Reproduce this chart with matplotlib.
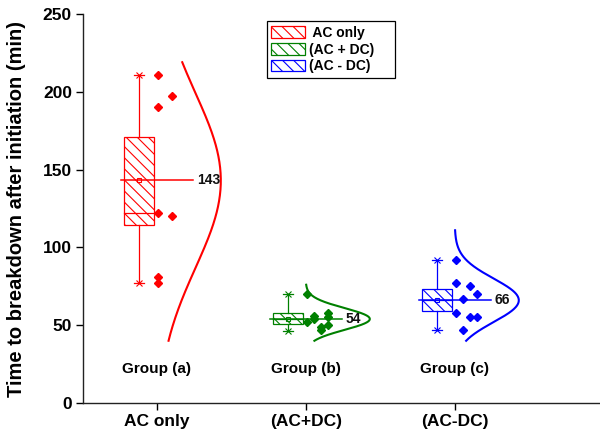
import numpy as np
import matplotlib
matplotlib.use('Agg')
import matplotlib.pyplot as plt
from matplotlib.patches import Rectangle, Patch

plt.rcParams['font.family'] = ['Liberation Sans', 'DejaVu Sans']
plt.rcParams['font.weight'] = 'bold'
plt.rcParams['hatch.linewidth'] = 0.8

# ---------------- data ----------------
categories = ['AC only', '(AC+DC)', '(AC-DC)']
group_labels = ['Group (a)', 'Group (b)', 'Group (c)']
legend_labels = [' AC only     ', '(AC + DC)    ', '(AC - DC)    ']

points_a = [211, 197, 190, 122, 120, 81, 77]
points_b = [70, 52, 56, 54, 47, 49, 58, 55.5, 50]
points_c = [92, 77, 75, 70, 67, 58, 55, 55, 47]

box_low = [114.4, 50.7, 59.1]
box_high = [170.8, 57.6, 73.3]
medians = [122, 54, 66.5]
means = [143, 54, 66]
whisker_low = [77, 46, 47]
whisker_high = [211, 70, 92]
curve_sd = [56, 7, 14]
curve_low = [40, 40, 40]
curve_high = [219, 76, 111]

# ---------------- layout ----------------
cols_a = [0, 2, 0, 0, 2, 0, 0]
cols_b = [0, 0, 1, 1, 2, 2, 3, 3, 3]
cols_c = [0, 0, 2, 3, 1, 0, 2, 3, 1]
colors = ['#ff0000', '#008000', '#0000ff']
HATCH = '\\\\\\'

fig = plt.figure(figsize=(6, 4.37), dpi=100)
ax = fig.add_axes([83 / 600, 1 - 403 / 437, 517 / 600, 389 / 437])

all_points = [points_a, points_b, points_c]
all_cols = [cols_a, cols_b, cols_c]

for i in range(3):
    x0 = i + 1
    c = colors[i]
    bx = x0 - 0.12
    bw = 0.2
    ax.add_patch(Rectangle((bx - bw / 2, box_low[i]), bw, box_high[i] - box_low[i],
                           facecolor='white', edgecolor=c, hatch=HATCH, lw=0.9, zorder=2))
    ax.plot([bx - bw / 2, bx + bw / 2], [medians[i], medians[i]], color=c, lw=0.9, zorder=3)
    # whiskers
    ax.plot([bx, bx], [box_high[i], whisker_high[i]], color=c, lw=0.9, zorder=2)
    ax.plot([bx, bx], [box_low[i], whisker_low[i]], color=c, lw=0.9, zorder=2)
    for w in (whisker_low[i], whisker_high[i]):
        ax.plot([bx - 0.035, bx + 0.035], [w, w], color=c, lw=0.9, zorder=3)
        ax.plot([bx], [w], marker='x', ms=4.5, mew=0.8, color=c, zorder=3)
    # mean line, marker and label
    ax.plot([x0 - 0.24, x0 + 0.245], [means[i], means[i]], color=c, lw=1.1, zorder=4)
    ax.plot([bx], [means[i]], marker='s', ms=3.5, mfc='none', mec=c, mew=0.8, zorder=4)
    ax.text(x0 + 0.27, means[i], f'{means[i]:g}', ha='left', va='center',
            fontsize=10, fontweight='bold', color='#111111', zorder=5)
    # points
    xs = x0 + 0.006 + 0.047 * np.array(all_cols[i])
    ax.plot(xs, all_points[i], linestyle='none', marker='D', ms=4.2, color=c, mec=c, zorder=5)
    # distribution curve
    y = np.linspace(curve_low[i], curve_high[i], 300)
    wdt = 0.43 * np.exp(-0.5 * ((y - means[i]) / curve_sd[i]) ** 2)
    ax.plot(x0 + wdt, y, color=c, lw=1.5, zorder=3)
    # group label
    ax.text(x0, 22, group_labels[i], ha='center', va='center', fontsize=11, fontweight='bold')

ax.set_xlim(0.505, 3.975)
ax.set_ylim(0, 250)
ax.set_yticks([0, 50, 100, 150, 200, 250])
ax.set_xticks([1, 2, 3])
ax.set_xticklabels(categories)
ax.spines['top'].set_visible(False)
ax.spines['right'].set_visible(False)
for s in ('left', 'bottom'):
    ax.spines[s].set_linewidth(1.0)
    ax.spines[s].set_color('#222222')
ax.tick_params(axis='both', direction='out', length=5, width=1, labelsize=12.5, pad=3)
for lab in ax.get_xticklabels() + ax.get_yticklabels():
    lab.set_fontweight('bold')

fig.text(17 / 600, 0.522, 'Time to breakdown after initiation (min)', rotation=90,
         ha='center', va='center', fontsize=14.5, fontweight='bold')

handles = [Patch(facecolor='white', edgecolor=colors[k], hatch=HATCH, lw=0.9) for k in range(3)]
leg = ax.legend(handles, legend_labels, loc='upper left', bbox_to_anchor=(0.355, 0.982),
                borderaxespad=0, frameon=True, fancybox=False, framealpha=1,
                edgecolor='black', handlelength=2.4, handleheight=0.9,
                labelspacing=0.2, handletextpad=0.3, borderpad=0.35,
                prop={'weight': 'bold', 'size': 10})
leg.get_frame().set_linewidth(0.9)

fig.savefig('out.png', dpi=100)
